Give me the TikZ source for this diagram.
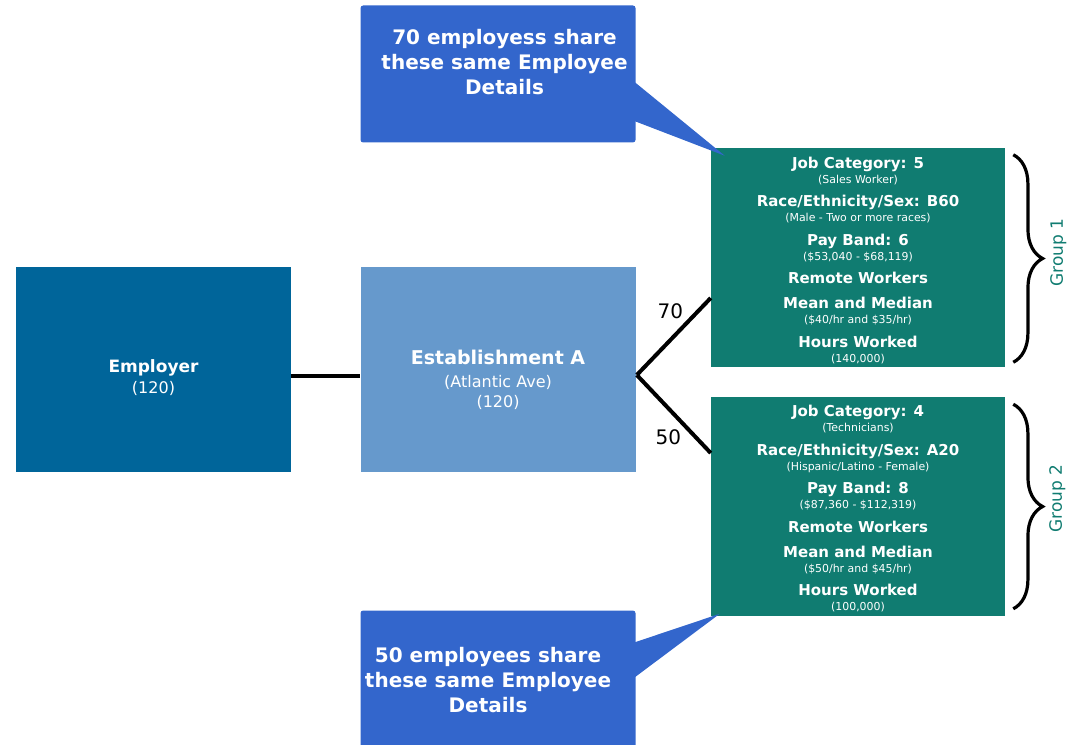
\documentclass[tikz,border=0pt]{standalone}
\usepackage{fontspec}
\setmainfont{DejaVu Sans}
\usepackage{tikz}
\usetikzlibrary{calc}
\usetikzlibrary{positioning}
\usetikzlibrary{decorations.pathreplacing}

\definecolor{employerblue}{RGB}{0,101,154}
\definecolor{siteblue}{RGB}{102,153,204}
\definecolor{groupteal}{RGB}{16,124,113}
\definecolor{calloutblue}{RGB}{51,102,204}

\newcommand{\grpsub}[1]{{\fontsize{8.2}{9}\selectfont\mdseries #1}}

\tikzset{
  mybox/.style={
    shape=rectangle,
    fill=#1,
    inner sep=0pt,
    minimum width=206.25pt,
    minimum height=153.75pt,
  },
  mytext/.style={
    text=white,
    align=center,
    inner sep=0pt,
    font=\fontsize{12}{15.75}\selectfont
  },
  mygroup/.style={
    shape=rectangle,
    fill=groupteal,
    text=white,
    align=center,
    inner sep=0pt,
    minimum width=220.5pt,
    minimum height=164.25pt,
    font=\fontsize{11.25}{11.25}\selectfont\bfseries
  },
  mycallout/.style={
    shape=rectangle,
    fill=calloutblue,
    rounded corners=2pt,
    inner sep=0pt,
    minimum width=206.25pt,
    minimum height=102.75pt,
  },
  mycallouttext/.style={
    text=white,
    align=center,
    inner sep=0pt,
    font=\fontsize{15}{18.75}\selectfont\bfseries
  },
  myline/.style={
    draw=black,
    line width=3pt,
  },
  mynumber/.style={
    inner sep=0pt,
    font=\fontsize{15}{18}\selectfont
  },
  mybrace/.style={
    draw=black,
    line width=2.4pt,
    decorate,
    decoration={brace, amplitude=22pt},
  },
  mygrouplabel/.style={
    text=groupteal,
    rotate=90,
    inner sep=0pt,
    font=\fontsize{12.75}{15}\selectfont
  },
}

\begin{document}
\begin{tikzpicture}[x=0.75pt, y=-0.75pt]
    \useasboundingbox (0,0) rectangle (1078,745);

    \node[mybox=employerblue] (employer) at (153.5,369.5) {};
    \node[mybox=siteblue] (establishment) [right=51.75pt of employer] {};

    \node[mytext] (employertext) at ($(employer.center)+(0,8)$) {{\bfseries\fontsize{12.75}{15}\selectfont Employer}\\(120)};
    \node[mytext, font=\fontsize{12}{15}\selectfont] (establishmenttext) at ($(establishment.center)+(0,10)$) {{\bfseries\fontsize{14.25}{15}\selectfont Establishment A}\\[2.25pt](Atlantic Ave)\\(120)};

    \node[mygroup] (group1) at (858,257.5) {\rule{0pt}{12.5pt}Job Category: 5\\\grpsub{(Sales Worker)}\\[6.4pt]
      Race/Ethnicity/Sex: B60\\\grpsub{(Male - Two or more races)}\\[6.4pt]
      Pay Band: 6\\\grpsub{(\$53,040 - \$68,119)}\\[6.4pt]
      Remote Workers\\[7.5pt]
      Mean and Median\\\grpsub{(\$40/hr and \$35/hr)}\\[6.4pt]
      Hours Worked\\\grpsub{(140,000)}};
    \node[mygroup] (group2) [below=21.75pt of group1] {\rule{0pt}{12.5pt}Job Category: 4\\\grpsub{(Technicians)}\\[6.4pt]
      Race/Ethnicity/Sex: A20\\\grpsub{(Hispanic/Latino - Female)}\\[6.4pt]
      Pay Band: 8\\\grpsub{(\$87,360 - \$112,319)}\\[6.4pt]
      Remote Workers\\[7.5pt]
      Mean and Median\\\grpsub{(\$50/hr and \$45/hr)}\\[6.4pt]
      Hours Worked\\\grpsub{(100,000)}};

    \node[mycallout] (callout1) [above=93pt of establishment] {};
    \node[mycallout, minimum height=105pt] (callout2) [below=103.5pt of establishment] {};

    % pointers of the callouts
    \fill[calloutblue] ($(callout1.north east)+(-1,77)$) -- ($(group1.north west)+(14,8)$) -- ($(callout1.north east)+(-1,116)$) -- cycle;
    \fill[calloutblue] ($(callout2.north east)+(-1,32)$) -- ($(group2.south west)+(9,-2)$) -- ($(callout2.north east)+(-1,67)$) -- cycle;

    \node[mycallouttext] (callout1text) at ($(callout1.center)+(6.5,-12)$) {70 employess share\\these same Employee\\Details};
    \node[mycallouttext] (callout2text) at ($(callout2.center)+(-10,0)$) {50 employees share\\these same Employee\\Details};

    \coordinate (fork) at ($(establishment.east)+(1,5.5)$);
    \draw[myline] ($(employer.east)+(0,6.5)$) -- ($(establishment.west)+(0,6.5)$);
    \draw[myline] (fork) -- ($(group1.west)+(0,40.5)$);
    \draw[myline] (fork) -- ($(group2.west)+(0,-53)$);

    \node[mynumber] (seventy) at ($(fork)+(33.5,-63.5)$) {70};
    \node[mynumber] (fifty) at ($(fork)+(31.5,62.5)$) {50};

    \draw[mybrace] ($(group1.north east)+(8,7)$) -- ($(group1.south east)+(8,-5)$);
    \draw[mybrace] ($(group2.north east)+(8,8)$) -- ($(group2.south east)+(8,-7)$);
    \node[mygrouplabel] (group1label) at ($(group1.east)+(53,-5)$) {Group 1};
    \node[mygrouplabel] (group2label) at ($(group2.east)+(52,-7.5)$) {Group 2};
  \end{tikzpicture}
\end{document}
